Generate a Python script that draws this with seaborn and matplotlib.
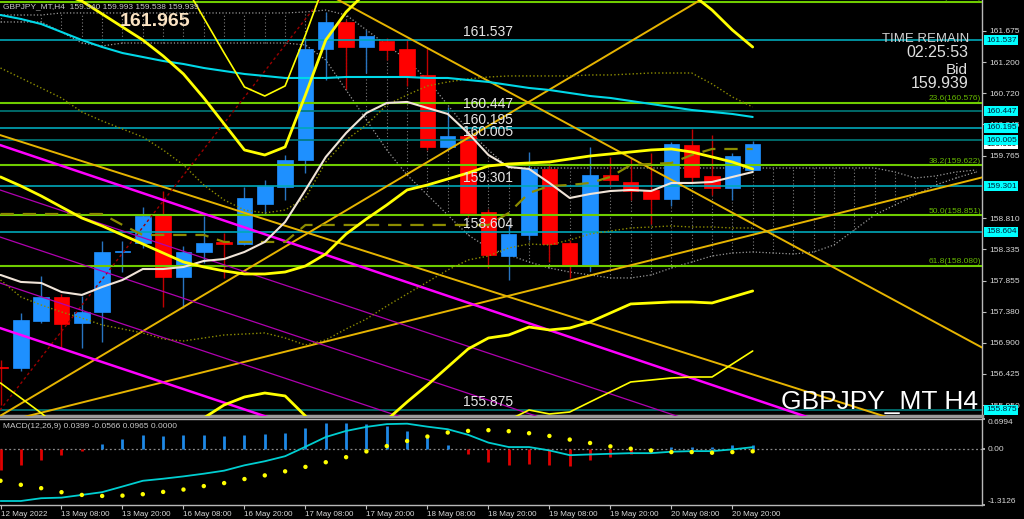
import numpy as np
import matplotlib
matplotlib.use("Agg")
import matplotlib.pyplot as plt
import seaborn as sns
from matplotlib.transforms import blended_transform_factory

sns.set_theme(style="dark", rc={"axes.facecolor": "black", "figure.facecolor": "black"})
plt.rcParams["font.family"] = ["Liberation Sans", "DejaVu Sans"]

# ---------------- data (GBPJPY H4) ----------------
opens  = [156.53, 156.512, 157.241, 157.599, 157.201, 157.378, 158.29, 158.435, 158.869, 157.905,
          158.297, 158.44, 158.415, 159.021, 159.283, 159.700, 161.395, 161.808, 161.435, 161.522,
          161.399, 161.002, 159.895, 160.073, 158.904, 158.236, 158.553, 159.563, 158.425, 158.078,
          159.471, 159.368, 159.241, 159.108, 159.930, 159.455, 159.267, 159.540]
highs  = [156.64, 157.363, 157.925, 157.645, 157.620, 158.460, 158.46, 158.986, 159.226, 158.389,
          158.843, 158.578, 159.283, 159.39, 159.777, 161.537, 161.965, 161.84, 161.69, 161.57,
          161.537, 161.41, 160.516, 160.15, 158.95, 158.70, 159.818, 159.65, 158.47, 159.904,
          159.742, 159.742, 159.803, 159.980, 160.170, 160.083, 159.803, 159.993]
lows   = [155.95, 156.476, 157.205, 156.823, 156.823, 156.919, 157.99, 158.358, 157.455, 157.440,
          158.119, 157.899, 158.395, 158.858, 159.088, 159.506, 160.925, 160.782, 161.037, 161.23,
          160.83, 159.853, 159.853, 158.832, 158.043, 157.864, 158.476, 158.145, 157.890, 158.006,
          159.32, 159.088, 158.721, 158.996, 159.348, 159.165, 159.088, 159.538]
closes = [156.51, 157.251, 157.599, 157.190, 157.374, 158.292, 158.31, 158.843, 157.905, 158.288,
          158.435, 158.42, 159.115, 159.301, 159.700, 161.395, 161.818, 161.435, 161.598, 161.384,
          160.986, 159.895, 160.073, 158.894, 158.242, 158.563, 159.563, 158.415, 158.083, 159.471,
          159.394, 159.230, 159.103, 159.941, 159.445, 159.267, 159.762, 159.939]

time_labels = ["12 May 2022", "13 May 08:00", "13 May 20:00", "16 May 08:00", "16 May 20:00",
               "17 May 08:00", "17 May 20:00", "18 May 08:00", "18 May 20:00", "19 May 08:00",
               "19 May 20:00", "20 May 08:00", "20 May 20:00"]

price_ticks = [161.675, 161.200, 160.720, 160.245, 159.765, 158.810, 158.335,
               157.855, 157.380, 156.900, 156.425, 155.950]

# bands / moving averages (per bar)
band_up_thick = [162.609, 162.487, 162.364, 162.242, 162.134, 161.935, 161.736, 161.537, 161.293, 161.017,
                 160.650, 160.252, 159.854, 159.777, 159.900, 160.696, 161.537, 161.966, 162.272, 162.533,
                 162.762, 162.915, 163.068, 163.068, 163.068, 163.068, 163.068, 163.068, 162.915, 162.762,
                 162.686, 162.609, 162.533, 162.533, 162.242, 161.996, 161.690, 161.430]
band_up_thin = [163.068, 163.068, 162.992, 162.915, 162.839, 162.762, 162.686, 162.609, 162.533, 162.410,
                161.874, 161.339, 160.818, 160.680, 160.834, 161.614, 162.456, 162.915, 163.068, 163.068,
                163.068, 163.068, 163.068, 163.068, 163.068, 163.068, 163.068, 163.068, 163.068, 163.068,
                163.068, 163.068, 163.068, 163.068, 163.068, 163.068, 163.068, 163.068]
band_mid_thick = [159.441, 159.303, 159.150, 158.981, 158.813, 158.691, 158.553, 158.415, 158.277, 158.139,
                  158.063, 158.002, 157.956, 157.956, 157.986, 158.078, 158.262, 158.568, 158.798, 159.012,
                  159.242, 159.318, 159.410, 159.502, 159.609, 159.640, 159.655, 159.670, 159.716, 159.762,
                  159.793, 159.823, 159.854, 159.869, 159.823, 159.747, 159.670, 159.563]
band_low_thick = [155.108, 155.185, 155.261, 155.261, 155.338, 155.338, 155.415, 155.415, 155.491, 155.568,
                  155.752, 155.951, 156.073, 156.134, 156.089, 155.782, 155.415, 155.261, 155.415, 155.721,
                  155.997, 156.257, 156.532, 156.808, 156.976, 157.022, 157.144, 157.099, 157.129, 157.221,
                  157.359, 157.497, 157.512, 157.527, 157.527, 157.512, 157.604, 157.696]
band_low_thin = [156.287, 156.058, 155.828, 155.568, 155.415, 155.261, 155.108, 155.108, 155.108, 155.108,
                 155.108, 155.108, 155.108, 155.108, 155.108, 155.108, 155.108, 155.108, 155.108, 155.108,
                 155.108, 155.108, 155.108, 155.261, 155.491, 155.721, 155.874, 155.813, 155.843, 155.997,
                 156.150, 156.303, 156.333, 156.364, 156.379, 156.379, 156.578, 156.777]
ma_white = [157.941, 157.834, 157.818, 157.680, 157.635, 157.757, 157.864, 158.032, 158.032, 158.063,
            158.155, 158.185, 158.293, 158.446, 158.752, 159.242, 159.747, 160.114, 160.420, 160.573,
            160.589, 160.497, 160.405, 160.114, 159.777, 159.594, 159.563, 159.349, 159.119, 159.180,
            159.226, 159.242, 159.226, 159.349, 159.349, 159.364, 159.441, 159.517]
ma_cyan = [161.920, 161.859, 161.782, 161.660, 161.537, 161.430, 161.338, 161.277, 161.216, 161.170,
           161.109, 161.063, 161.017, 160.987, 160.956, 160.956, 160.956, 160.971, 160.971, 160.971,
           160.971, 160.956, 160.956, 160.925, 160.895, 160.849, 160.803, 160.772, 160.726, 160.680,
           160.650, 160.604, 160.558, 160.512, 160.466, 160.436, 160.405, 160.359]
dotted_up = [161.109, 160.956, 160.803, 160.650, 160.436, 160.298, 160.175, 160.053, 159.854, 159.624,
             159.318, 159.089, 158.935, 158.890, 158.935, 159.119, 159.670, 160.007, 160.237, 160.543,
             160.696, 160.834, 160.895, 160.941, 160.971, 160.987, 160.987, 160.987, 160.987, 161.002,
             161.002, 161.017, 161.032, 161.032, 161.032, 160.864, 160.665, 160.512]
dotted_low = [157.864, 157.604, 157.481, 157.374, 157.282, 157.175, 157.114, 157.053, 156.961, 156.930,
              156.976, 157.022, 157.037, 157.053, 156.976, 156.869, 156.946, 157.114, 157.267, 157.466,
              157.650, 157.834, 158.017, 158.170, 158.231, 158.354, 158.415, 158.400, 158.476, 158.568,
              158.614, 158.660, 158.675, 158.691, 158.675, 158.675, 158.660, 158.660]
kijun = [158.874, 158.874, 158.874, 158.874, 158.874, 158.874, 158.706, 158.553, 158.553, 158.553,
         158.553, 158.446, 158.446, 158.446, 158.446, 158.706, 158.706, 158.706, 158.706, 158.706,
         158.706, 158.706, 158.706, 158.706, 158.706, 158.890, 159.196, 159.303, 159.318, 159.349,
         159.441, 159.624, 159.640, 159.655, 159.777, 159.869, 159.869, 159.869]
# cloud spans (shifted forward, bars 0..48)
span_a = [161.920, 161.920, 161.920] + [161.951] * 12 + [161.966, 161.996, 161.920, 161.690, 161.461,
          161.231, 160.925, 160.543, 160.160, 159.854] + [159.578] * 19 + [159.517, 159.425, 159.456,
          159.517, 159.548]
span_b = [161.813, 161.813, 161.813, 161.660, 161.491, 161.446, 161.491, 161.491, 161.491, 161.491,
          161.491, 161.491, 161.491, 161.491, 161.491, 161.461, 161.231, 160.772, 160.313, 159.854,
          159.471, 159.165, 158.859, 158.553, 158.354, 158.247, 158.139, 158.047, 157.986, 157.941,
          157.895, 157.895, 157.941, 158.047, 158.139, 158.231, 158.277, 158.293, 158.277, 158.262,
          158.293, 158.400, 158.630, 158.859, 159.012, 159.165, 159.318, 159.425, 159.517]

# horizontal levels and fibonacci levels
h_levels = [161.537, 160.447, 160.195, 160.005, 159.301, 158.604, 155.875]
h_bright = [True, False, True, False, True, True, False]
fib_levels = [162.118, 160.576, 159.622, 158.851, 158.080]
fib_names = ["0.0", "23.6", "38.2", "50.0", "61.8"]

# trend lines: (bar0, price0, bar1, price1)
orange_lines = [(0, 160.080, 48, 155.330), (16, 162.254, 48, 156.877),
                (0, 155.677, 48, 159.412), (0, 155.787, 35, 162.256)]
red_dotted_line = (0, 155.883, 16, 162.257)
magenta_thick = [(0, 159.927, 48, 154.894), (0, 157.126, 48, 152.153)]
magenta_thin = [(0, 159.239, 48, 154.250), (0, 158.519, 48, 153.531), (0, 157.815, 48, 152.826)]

# MACD(12,26,9)
macd_main = [-1.219, -1.219, -1.154, -1.14, -1.077, -1.012, -0.88, -0.746, -0.698, -0.643,
             -0.58, -0.509, -0.384, -0.289, -0.171, 0.05, 0.278, 0.42, 0.515, 0.58,
             0.59, 0.52, 0.46, 0.33, 0.147, 0.043, 0.043, -0.036, -0.147, -0.13,
             -0.114, -0.10, -0.10, -0.066, -0.052, -0.052, -0.012, 0.0399]
macd_signal = [-0.746, -0.84, -0.919, -1.013, -1.077, -1.101, -1.093, -1.06, -1.006, -0.951,
               -0.87, -0.80, -0.705, -0.62, -0.525, -0.421, -0.312, -0.194, -0.059, 0.066,
               0.185, 0.289, 0.383, 0.421, 0.438, 0.414, 0.367, 0.303, 0.218, 0.138,
               0.059, 0.005, -0.036, -0.075, -0.075, -0.09, -0.075, -0.0566]
macd_hist = [-0.485, -0.367, -0.249, -0.146, -0.051, 0.122, 0.225, 0.327, 0.312, 0.32,
             0.32, 0.296, 0.327, 0.343, 0.367, 0.50, 0.596, 0.596, 0.58, 0.525,
             0.42, 0.32, 0.083, -0.13, -0.30, -0.38, -0.35, -0.38, -0.41, -0.27,
             -0.185, -0.13, -0.07, 0.04, 0.05, 0.05, 0.08, 0.0965]

# ---------------- figure ----------------
W, H = 1024, 519
fig = plt.figure(figsize=(W / 100, H / 100), dpi=100, facecolor="black")
ax = fig.add_axes([0, 1 - 416 / H, 982 / W, 416 / H])
axm = fig.add_axes([0, 1 - 505 / H, 982 / W, 86 / H])
for a in (ax, axm):
    a.set_facecolor("black")
    a.grid(False)

bars = np.arange(len(opens))
cbars = np.arange(len(span_a))
o, h, l, c = map(np.array, (opens, highs, lows, closes))
XMIN, XMAX = -0.025, 48.28
ax.set_xlim(XMIN, XMAX)
ax.set_ylim(155.782, 162.1495)

# ichimoku-like cloud (dotted)
ax.vlines(cbars, span_b, span_a, colors="#7c7c7c", linestyles=(0, (1, 2)), lw=0.8, zorder=1)
sns.lineplot(x=cbars, y=span_a, ax=ax, color="#9a9a9a", lw=0.9, linestyle=":", zorder=1)
sns.lineplot(x=cbars, y=span_b, ax=ax, color="#9a9a9a", lw=0.9, linestyle=":", zorder=1)

# candles
up = c >= o
body_col = np.where(up, "#1E90FF", "#FF0000")
wick_col = np.where(up, "#2874C0", "#C00000")
ax.vlines(bars, l, h, colors=wick_col, lw=1.0, zorder=3)
heights = np.maximum(np.abs(c - o), 0.014)
ax.bar(bars, heights, bottom=np.minimum(o, c), width=0.76, color=body_col,
       edgecolor=body_col, lw=0.5, zorder=4)

# horizontal lines
for lv, br in zip(h_levels, h_bright):
    ax.axhline(lv, color="#00A8B8" if br else "#007a7a", lw=1.2, zorder=5)
for lv in fib_levels:
    ax.axhline(lv, color="#6FCC00", lw=1.5, zorder=5)

def draw_line(seg, **kw):
    b0, p0, b1, p1 = seg
    k = (p1 - p0) / (b1 - b0)
    xs = np.array([XMIN, XMAX])
    ax.plot(xs, p0 + k * (xs - b0), **kw)

for seg in orange_lines:
    draw_line(seg, color="#E6B400", lw=1.4, zorder=6)
draw_line(red_dotted_line, color="#9a0000", lw=1.0, ls=(0, (2, 2)), zorder=6)
for seg in magenta_thin:
    draw_line(seg, color="#B000B0", lw=0.9, zorder=6)
for seg in magenta_thick:
    draw_line(seg, color="#FF00FF", lw=1.8, zorder=6)

# indicators
sns.lineplot(x=bars, y=dotted_up, ax=ax, color="#8c8c00", lw=1.0, linestyle=":", zorder=7)
sns.lineplot(x=bars, y=dotted_low, ax=ax, color="#8c8c00", lw=1.0, linestyle=":", zorder=7)
sns.lineplot(x=bars, y=kijun, ax=ax, color="#8c8c00", lw=1.6, linestyle=(0, (6, 4)), zorder=7)
sns.lineplot(x=bars, y=ma_cyan, ax=ax, color="#00D8E8", lw=1.5, zorder=7)
sns.lineplot(x=bars, y=ma_white, ax=ax, color="#F0E4D8", lw=1.5, zorder=7)
for ser, lw in ((band_up_thick, 2.0), (band_mid_thick, 2.0), (band_low_thick, 2.0),
                (band_up_thin, 1.2), (band_low_thin, 1.2)):
    sns.lineplot(x=bars, y=ser, ax=ax, color="#FFFF00", lw=lw, zorder=7)
ax.set_xlabel("")
ax.set_ylabel("")

# level labels inside the chart
for lv in h_levels:
    ax.annotate(f"{lv:.3f}", xy=(463 / 982, lv), xycoords=("axes fraction", "data"),
                xytext=(0, 0.5), textcoords="offset points", va="bottom", ha="left",
                fontsize=10, color="#E6E6E6", zorder=9)
for lv, nm in zip(fib_levels, fib_names):
    ax.annotate(f"{nm}({lv:.3f})", xy=(0.999, lv), xycoords=("axes fraction", "data"),
                xytext=(0, 0.3), textcoords="offset points", va="bottom", ha="right",
                fontsize=6, color="#66B800", zorder=9, annotation_clip=False, clip_on=True)

# right price axis
ax.yaxis.tick_right()
ax.set_yticks(price_ticks)
ax.set_yticklabels([f"{p:.3f}" for p in price_ticks])
ax.tick_params(axis="y", right=True, left=False, length=3, width=0.8, color="#C0C0C0",
               labelcolor="#D8D8D8", labelsize=6, pad=2)
ax.set_xticks([])
trans = blended_transform_factory(ax.transAxes, ax.transData)
ax.text(1.004, 159.939, "159.939", transform=trans, ha="left", va="center", fontsize=6,
        color="black", bbox=dict(boxstyle="square,pad=0.18", fc="white", ec="none"),
        clip_on=False, zorder=10)
for lv in h_levels:
    ax.text(1.004, lv, f"{lv:.3f}", transform=trans, ha="left", va="center", fontsize=6,
            color="#00203a", bbox=dict(boxstyle="square,pad=0.18", fc="#00FFFF", ec="none"),
            clip_on=False, zorder=11)
for side in ("top", "left"):
    ax.spines[side].set_visible(False)
ax.spines["right"].set_color("#B8B8B8")
ax.spines["right"].set_linewidth(1.0)
ax.spines["bottom"].set_color("#9a9a9a")
ax.spines["bottom"].set_linewidth(2.5)

# ---------------- MACD panel ----------------
axm.set_xlim(XMIN, XMAX)
axm.set_ylim(-1.3126, 0.6994)
hist = np.array(macd_hist)
axm.vlines(bars, 0, hist, colors=np.where(hist >= 0, "#1E88E5", "#E00000"), lw=2.0, zorder=2)
axm.axhline(0, color="#8a8a8a", lw=0.9, ls=(0, (1.5, 2)), zorder=1)
sns.lineplot(x=bars, y=macd_main, ax=axm, color="#00CED1", lw=1.3, zorder=3)
sns.scatterplot(x=bars, y=macd_signal, ax=axm, color="#FFFF00", s=10, edgecolor="none",
                linewidth=0, zorder=4)
axm.set_xlabel("")
axm.set_ylabel("")
axm.yaxis.tick_right()
axm.set_yticks([0.6994, 0.0, -1.3126])
axm.set_yticklabels(["0.6994", "0.00", "-1.3126"])
ylbls = axm.get_yticklabels()
ylbls[0].set_va("top")
ylbls[2].set_va("bottom")
axm.tick_params(axis="y", right=True, left=False, length=2, color="#C0C0C0",
                labelcolor="#D8D8D8", labelsize=6, pad=2)
axm.set_xticks(np.arange(0, 37, 3))
axm.set_xticklabels(time_labels)
for t in axm.get_xticklabels():
    t.set_ha("left")
axm.tick_params(axis="x", bottom=True, length=3, width=0.8, color="#C0C0C0",
                labelcolor="#D8D8D8", labelsize=5.8, pad=1.5)
axm.spines["left"].set_visible(False)
for side in ("top", "right", "bottom"):
    axm.spines[side].set_color("#B8B8B8")
    axm.spines[side].set_linewidth(1.0)

# ---------------- texts ----------------
fig.text(3 / W, 1 - 7 / H, "GBPJPY_MT,H4  159.540 159.993 159.538 159.939", fontsize=6,
         color="#C8C8C8", va="center", ha="left")
fig.text(120 / W, 1 - 21 / H, "161.965", fontsize=14, fontweight="bold", color="#FBE3C3",
         va="center", ha="left")
fig.text(969 / W, 1 - 38.5 / H, "TIME REMAIN", fontsize=9.5, color="#D0D0D0", va="center", ha="right")
fig.text(968 / W, 1 - 52.5 / H, "02:25:53", fontsize=11.5, color="#E0E0E0", va="center", ha="right")
fig.text(968 / W, 1 - 70.5 / H, "Bid", fontsize=11, color="#E0E0E0", va="center", ha="right")
fig.text(968 / W, 1 - 84 / H, "159.939", fontsize=11.5, color="#E0E0E0", va="center", ha="right")
fig.text(978 / W, 1 - 402 / H, "GBPJPY_MT H4", fontsize=19, color="white", va="center", ha="right")
fig.text(3 / W, 1 - 426 / H, "MACD(12,26,9) 0.0399 -0.0566 0.0965 0.0000", fontsize=6,
         color="#C8C8C8", va="center", ha="left")

fig.savefig("out.png", dpi=100, facecolor="black")
